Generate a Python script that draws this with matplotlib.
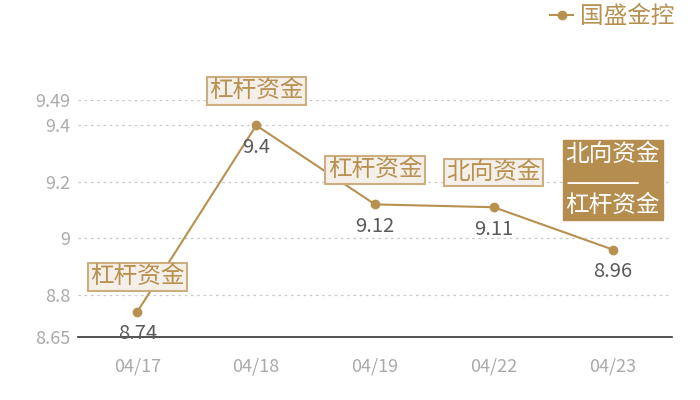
import matplotlib.pyplot as plt

plt.rcParams['font.family'] = ['Noto Sans CJK SC', 'DejaVu Sans']

dates = ['04/17', '04/18', '04/19', '04/22', '04/23']
values = [8.74, 9.4, 9.12, 9.11, 8.96]
notes = ['杠杆资金', '杠杆资金', '杠杆资金', '北向资金', '北向资金\n\u3000\n杠杆资金']
yticks = [8.65, 8.8, 9, 9.2, 9.4, 9.49]
ytick_labels = ['8.65', '8.8', '9', '9.2', '9.4', '9.49']
series_name = '国盛金控'

gold = '#B8904F'

fig = plt.figure(figsize=(7, 4), dpi=100)
ax = fig.add_axes([78 / 700, 63 / 400, 594 / 700, 237 / 400])

x = list(range(len(dates)))
ax.plot(x, values, color=gold, lw=1.5, marker='o', ms=6, label=series_name, zorder=3)

ax.set_xlim(-0.5, len(dates) - 0.5)
ax.set_ylim(8.65, 9.49)
ax.set_xticks(x)
ax.set_xticklabels(dates)
ax.set_yticks(yticks)
ax.set_yticklabels(ytick_labels)
ax.tick_params(length=0, labelsize=13, colors='#AAAAAA', pad=5.5)
ax.tick_params(axis='x', pad=15)

for y in yticks[1:]:
    ax.axhline(y, color='#C8C8C8', lw=0.9, ls=(0, (2, 3)), zorder=1)

for s in ['top', 'right', 'left']:
    ax.spines[s].set_visible(False)
ax.spines['bottom'].set_color('#333333')
ax.spines['bottom'].set_linewidth(1.2)

# value labels under the points
for i, v in enumerate(values):
    ax.annotate(f'{v:g}', (i, v), xytext=(0, -16), textcoords='offset points',
                ha='center', va='center', fontsize=14.5, color='#5A5A5A', zorder=4)

# boxed notes above the points
for i, (v, n) in enumerate(zip(values, notes)):
    if '\n' in n:
        t = ax.annotate(n, (i, v), xytext=(0, 50), textcoords='offset points',
                        ha='center', va='center', fontsize=17, color='white',
                        linespacing=1.14,
                        bbox=dict(boxstyle='square,pad=0.12', fc='#B58D4F', ec='#B58D4F'),
                        zorder=5)
        # white rule between the two lines
        ax.annotate('', xy=(0.03, 0.46), xycoords=t, xytext=(0.77, 0.46), textcoords=t,
                    arrowprops=dict(arrowstyle='-', color='white', lw=1.3,
                                    shrinkA=0, shrinkB=0), zorder=6)
    else:
        ax.annotate(n, (i, v), xytext=(0, 25), textcoords='offset points',
                    ha='center', va='center', fontsize=17, color='#B8904F',
                    bbox=dict(boxstyle='square,pad=0.1', fc='#F4EFE9', ec='#CDAE7F', lw=1.5),
                    zorder=5)

leg = fig.legend(loc='upper right', bbox_to_anchor=(675 / 700, 1 - 5 / 400), frameon=False,
                 fontsize=17, handlelength=1.0, handletextpad=0.3,
                 borderaxespad=0, borderpad=0)
for t in leg.get_texts():
    t.set_color(gold)

fig.savefig('out.png', dpi=100)
